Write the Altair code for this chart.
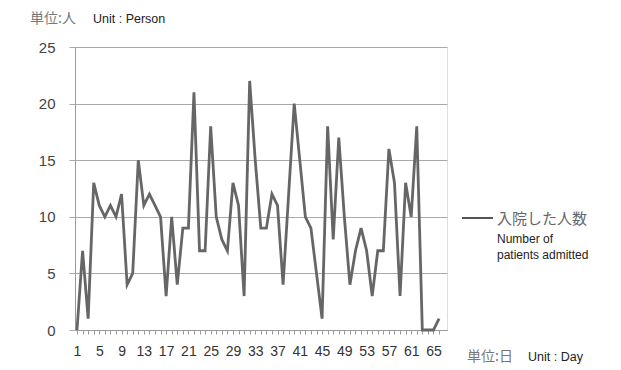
import altair as alt
import pandas as pd

days = list(range(1, 67))
admitted = [0, 7, 1, 13, 11, 10, 11, 10, 12, 4,
            5, 15, 11, 12, 11, 10, 3, 10, 4, 9,
            9, 21, 7, 7, 18, 10, 8, 7, 13, 11,
            3, 22, 15, 9, 9, 12, 11, 4, 12, 20,
            15, 10, 9, 5, 1, 18, 8, 17, 10, 4,
            7, 9, 7, 3, 7, 7, 16, 13, 3, 13,
            10, 18, 0, 0, 0, 1]
y_ticks = [0, 5, 10, 15, 20, 25]

df = pd.DataFrame({"day": days, "n": admitted})

W, H = 372, 283
JP = "Noto Sans CJK JP"
EN = "Liberation Sans"

x_axis = alt.Axis(values=days, labelExpr="(datum.value - 1) % 4 == 0 ? datum.label : ''",
                  labelOverlap=False, labelFlush=False, grid=False, domainColor="#999",
                  tickColor="#999", tickSize=4, labelFont="Liberation Sans Narrow, Liberation Sans",
                  labelFontSize=14, labelColor="#333", labelPadding=10, title=None)
y_axis = alt.Axis(values=y_ticks, grid=True, gridColor="#aaa", gridWidth=1.2, domainColor="#999",
                  tickColor="#aaa", tickSize=6, labelFont=EN, labelFontSize=15, labelColor="#444",
                  labelPadding=14, title=None)

line = alt.Chart(df).mark_line(color="#666", strokeWidth=2.8).encode(
    x=alt.X("day:Q", scale=alt.Scale(domain=[0.64, 67.43], nice=False, zero=False), axis=x_axis),
    y=alt.Y("n:Q", scale=alt.Scale(domain=[0, 25], nice=False), axis=y_axis),
)

def txt(s, x, y, font, size, color, weight="normal"):
    return alt.Chart(pd.DataFrame({"t": [s]})).mark_text(
        align="left", baseline="middle", font=font, fontSize=size, color=color, fontWeight=weight
    ).encode(text="t:N", x=alt.value(x), y=alt.value(y))

legend_line = alt.Chart(pd.DataFrame({"a": [0]})).mark_rule(color="#555", strokeWidth=2).encode(
    x=alt.value(387), x2=alt.value(418), y=alt.value(171))

chart = alt.layer(
    line,
    txt("単位:人", -45, -28, JP, 14, "#777"),
    txt("Unit : Person", 18, -28, EN, 12.5, "#222"),
    legend_line,
    txt("入院した人数", 422, 172, JP, 15, "#666"),
    txt("Number of", 422, 192, EN, 12, "#222"),
    txt("patients admitted", 422, 208, EN, 12, "#222"),
    txt("単位:日", 392, 310, JP, 14, "#777"),
    txt("Unit : Day", 453, 310, EN, 12.5, "#222"),
).properties(
    width=W, height=H,
    autosize=alt.AutoSizeParams(type="none"),
    padding={"left": 67, "top": 39, "right": 166, "bottom": 38},
).configure_view(stroke=None).configure(background="white")

chart.save("out.html", embed_options={"renderer": "svg", "actions": False})
